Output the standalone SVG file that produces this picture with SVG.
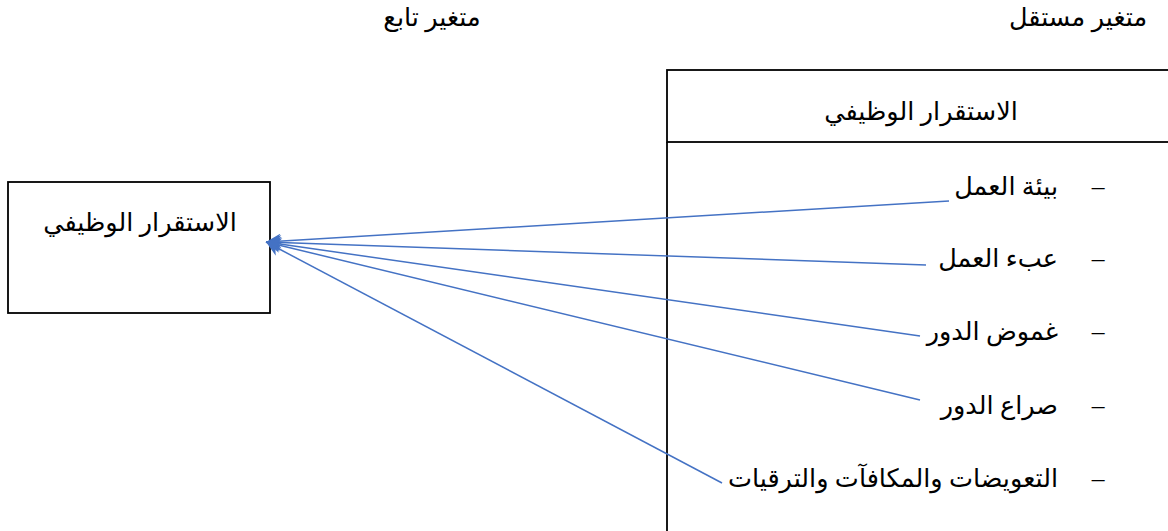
<svg xmlns="http://www.w3.org/2000/svg" width="1168" height="531" viewBox="0 0 1168 531">
<style>
.t{font-family:"Liberation Serif","DejaVu Sans",serif;font-size:25.5px;fill:#000}
.r{direction:rtl;text-anchor:start}
.c{text-anchor:middle}
.box{fill:#fff;stroke:#000;stroke-width:1.8}
.ln{stroke:#000;stroke-width:1.8;fill:none}
.cn{stroke:#4472C4;stroke-width:1.5;fill:none;marker-end:url(#ah)}
</style>
<defs>
<marker id="ah" viewBox="0 0 10 10" refX="10" refY="5" markerWidth="20" markerHeight="15" markerUnits="userSpaceOnUse" orient="auto">
<path d="M0,0 L10,5 L0,10 L3,5 Z" fill="#4472C4"/>
</marker>
</defs>
<rect width="1168" height="531" fill="#fff"/>
<g id="label-dependent"><text class="t c" x="432" y="26">متغير تابع</text></g>
<g id="label-independent"><text class="t c" x="1078" y="26">متغير مستقل</text></g>
<g id="dependent-box">
<rect class="box" x="8" y="182" width="262" height="131"/>
<text class="t c" x="140" y="231">الاستقرار الوظيفي</text>
</g>
<g id="independent-box">
<rect class="box" x="667" y="70" width="520" height="72"/>
<line class="ln" x1="667" y1="142" x2="667" y2="531"/>
<text class="t c" x="921" y="120">الاستقرار الوظيفي</text>
</g>
<g id="item1"><text class="t c" x="1098" y="195">–</text><text class="t r" x="1058" y="195">بيئة العمل</text></g>
<g id="item2"><text class="t c" x="1098" y="267">–</text><text class="t r" x="1058" y="267">عبء العمل</text></g>
<g id="item3"><text class="t c" x="1098" y="340">–</text><text class="t r" x="1058" y="340">غموض الدور</text></g>
<g id="item4"><text class="t c" x="1098" y="414">–</text><text class="t r" x="1058" y="414">صراع الدور</text></g>
<g id="item5"><text class="t c" x="1098" y="487">–</text><text class="t r" x="1058" y="487">التعويضات والمكافآت والترقيات</text></g>
<g id="connectors">
<line class="cn" x1="949" y1="201" x2="266" y2="242"/>
<line class="cn" x1="926" y1="265" x2="266" y2="242"/>
<line class="cn" x1="920" y1="336" x2="266" y2="242"/>
<line class="cn" x1="920" y1="400" x2="266" y2="242"/>
<line class="cn" x1="722" y1="483" x2="266" y2="242"/>
</g>
</svg>
